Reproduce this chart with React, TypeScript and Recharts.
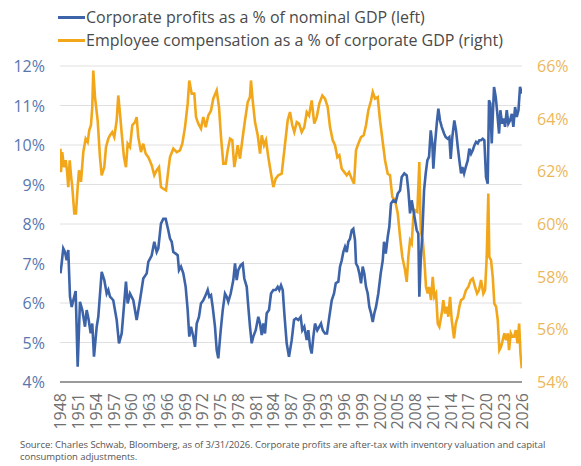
import React from 'react';
import { LineChart, Line, XAxis, YAxis, CartesianGrid } from 'recharts';

// corporate profits as % of nominal GDP, [year, %]
const profitPoints: [number, number][] = [
  [1948.0, 6.75], [1948.2, 7.0], [1948.47, 7.38], [1948.76, 7.29], [1949.05, 7.08], [1949.32, 7.34],
  [1949.61, 6.16], [1949.9, 5.9], [1950.17, 6.07], [1950.57, 6.3], [1950.91, 4.39], [1951.3, 6.03],
  [1951.69, 5.82], [1952.15, 5.4], [1952.43, 5.82], [1952.74, 5.6], [1953.11, 5.23], [1953.38, 5.48],
  [1953.67, 4.64], [1954.13, 5.4], [1954.4, 5.65], [1954.97, 6.79], [1955.41, 6.58], [1955.82, 6.24],
  [1956.09, 6.33], [1956.38, 6.16], [1956.93, 6.07], [1957.51, 5.57], [1957.9, 4.98], [1958.36, 5.23],
  [1959.08, 6.54], [1959.37, 5.99], [1959.76, 6.24], [1960.32, 6.07], [1960.89, 5.57], [1961.45, 6.07],
  [1962.01, 6.62], [1962.59, 6.75], [1962.86, 7.04], [1963.43, 7.2], [1963.87, 7.55], [1964.28, 7.29],
  [1964.55, 7.38], [1965.0, 8.01], [1965.39, 8.13], [1965.8, 8.13], [1966.24, 7.84], [1966.53, 7.63],
  [1966.82, 7.55], [1967.09, 7.29], [1967.49, 7.25], [1967.83, 7.21], [1968.05, 6.83], [1968.39, 6.92],
  [1968.78, 6.75], [1969.18, 6.41], [1969.52, 5.82], [1969.79, 5.15], [1970.08, 5.4], [1970.47, 5.15],
  [1970.76, 4.89], [1971.05, 5.48], [1971.43, 5.65], [1971.77, 5.99], [1972.16, 6.07], [1972.57, 6.2],
  [1972.91, 6.33], [1973.18, 6.16], [1973.47, 6.2], [1973.75, 5.9], [1974.14, 5.4], [1974.43, 4.81],
  [1974.7, 4.6], [1975.11, 5.31], [1975.45, 5.82], [1975.83, 6.24], [1976.12, 6.16], [1976.39, 6.03],
  [1976.8, 6.24], [1977.24, 6.58], [1977.53, 7.0], [1977.81, 6.58], [1978.08, 6.83], [1978.49, 6.96],
  [1978.83, 7.0], [1979.1, 6.62], [1979.51, 6.41], [1979.78, 5.9], [1980.06, 5.4], [1980.35, 4.98],
  [1980.62, 5.15], [1981.03, 5.31], [1981.47, 5.65], [1981.76, 5.48], [1982.05, 5.19], [1982.32, 5.48],
  [1982.6, 5.23], [1982.89, 5.74], [1983.28, 5.82], [1983.62, 6.24], [1984.01, 6.33], [1984.41, 6.33],
  [1984.75, 6.41], [1985.02, 6.33], [1985.31, 6.45], [1985.6, 6.33], [1985.87, 5.74], [1986.27, 4.98],
  [1986.66, 4.64], [1987.12, 5.06], [1987.51, 5.57], [1987.85, 5.61], [1988.24, 5.57], [1988.64, 5.65],
  [1988.91, 5.31], [1989.25, 5.4], [1989.66, 5.06], [1989.93, 5.31], [1990.22, 4.89], [1990.5, 4.72],
  [1990.78, 5.15], [1991.06, 5.48], [1991.45, 5.31], [1991.79, 5.4], [1992.08, 5.48], [1992.37, 5.31],
  [1992.75, 5.23], [1993.09, 5.23], [1993.48, 5.65], [1993.89, 6.07], [1994.28, 6.24], [1994.57, 6.5],
  [1995.01, 6.54], [1995.29, 6.92], [1995.58, 7.08], [1995.85, 7.29], [1996.14, 7.42], [1996.43, 7.29],
  [1996.7, 7.55], [1996.99, 7.63], [1997.27, 7.84], [1997.54, 7.88], [1997.83, 7.59], [1998.0, 7.0],
  [1998.29, 6.92], [1998.56, 6.75], [1998.85, 6.5], [1999.13, 6.92], [1999.4, 6.75], [1999.69, 6.41],
  [1999.98, 6.24], [2000.25, 5.9], [2000.54, 5.74], [2000.83, 5.52], [2001.1, 5.74], [2001.38, 5.9],
  [2001.77, 6.24], [2002.18, 6.75], [2002.52, 7.08], [2002.74, 7.55], [2003.03, 7.25], [2003.36, 7.67],
  [2003.63, 7.93], [2003.92, 8.52], [2004.31, 8.6], [2004.72, 8.56], [2005.06, 8.77], [2005.45, 8.85],
  [2005.73, 9.19], [2006.17, 9.28], [2006.58, 9.23], [2006.85, 8.85], [2007.14, 8.27], [2007.42, 8.6],
  [2007.7, 8.35], [2007.98, 8.1], [2008.27, 7.84], [2008.54, 7.76], [2008.71, 6.16], [2008.95, 7.08],
  [2009.22, 7.76], [2009.51, 8.85], [2009.79, 9.28], [2010.07, 9.61], [2010.35, 9.7], [2010.64, 10.37],
  [2010.91, 10.04], [2011.08, 9.4], [2011.37, 10.04], [2011.66, 10.54], [2011.93, 10.92], [2012.21, 10.62],
  [2012.5, 10.46], [2012.89, 10.29], [2013.18, 10.2], [2013.52, 10.16], [2013.79, 10.2], [2014.02, 9.65],
  [2014.29, 10.2], [2014.63, 10.62], [2014.92, 10.37], [2015.21, 9.95], [2015.48, 9.61], [2015.77, 9.28],
  [2015.99, 9.44], [2016.28, 9.28], [2016.56, 9.44], [2016.9, 9.61], [2017.17, 9.91], [2017.46, 9.78],
  [2017.75, 9.87], [2018.02, 9.99], [2018.31, 10.08], [2018.6, 10.04], [2018.86, 10.12], [2019.15, 10.12],
  [2019.44, 10.16], [2019.71, 10.12], [2019.99, 9.19], [2020.28, 9.02], [2020.5, 11.13], [2020.72, 11.05],
  [2020.96, 10.04], [2021.13, 10.71], [2021.35, 11.47], [2021.64, 11.21], [2021.91, 10.79], [2022.2, 10.29],
  [2022.42, 10.88], [2022.71, 10.54], [2022.99, 10.67], [2023.21, 10.46], [2023.5, 10.88], [2023.77, 10.54],
  [2024.06, 10.62], [2024.35, 10.79], [2024.62, 10.46], [2024.91, 10.96], [2025.19, 10.71], [2025.48, 10.88],
  [2025.75, 11.47], [2026.04, 11.3],
];

// employee compensation as % of corporate GDP, [year, %]
const compPoints: [number, number][] = [
  [1948.0, 62.86], [1948.08, 61.97], [1948.3, 62.73], [1948.59, 62.16], [1948.88, 62.42], [1949.1, 62.04],
  [1949.32, 61.4], [1949.56, 62.42], [1949.78, 61.85], [1950.0, 61.4], [1950.34, 60.4], [1950.62, 60.4],
  [1950.91, 61.4], [1951.13, 62.04], [1951.47, 61.6], [1951.86, 62.73], [1952.26, 63.24], [1952.6, 63.11],
  [1952.87, 63.56], [1953.16, 63.75], [1953.38, 64.44], [1953.55, 65.83], [1953.84, 64.82], [1954.29, 63.94],
  [1954.68, 62.54], [1954.97, 61.85], [1955.41, 62.16], [1955.7, 62.92], [1956.09, 63.24], [1956.38, 63.37],
  [1956.76, 63.49], [1957.1, 63.3], [1957.51, 63.94], [1957.78, 64.88], [1958.07, 64.19], [1958.36, 63.43],
  [1958.74, 62.54], [1959.08, 62.16], [1959.37, 63.05], [1959.76, 62.92], [1960.15, 63.75], [1960.61, 63.87],
  [1960.89, 64.06], [1961.16, 63.3], [1961.62, 62.73], [1962.01, 63.05], [1962.42, 62.67], [1962.86, 62.54],
  [1963.43, 62.23], [1963.87, 61.85], [1964.28, 62.04], [1964.67, 62.16], [1965.0, 61.4], [1965.39, 61.34],
  [1965.85, 61.28], [1966.24, 62.04], [1966.53, 62.54], [1967.09, 62.86], [1967.66, 62.73], [1968.22, 62.8],
  [1968.61, 63.05], [1969.07, 63.68], [1969.52, 64.57], [1969.79, 65.45], [1970.2, 64.95], [1970.64, 64.95],
  [1970.93, 64.06], [1971.32, 63.81], [1971.77, 63.62], [1972.16, 64.06], [1972.57, 63.68], [1973.01, 64.12],
  [1973.47, 64.31], [1973.85, 64.76], [1974.43, 65.07], [1974.82, 64.44], [1975.16, 63.3], [1975.55, 62.29],
  [1975.95, 62.29], [1976.29, 62.8], [1976.68, 63.24], [1977.07, 63.18], [1977.41, 62.16], [1977.7, 62.54],
  [1977.98, 62.99], [1978.37, 62.48], [1978.76, 63.18], [1979.22, 63.94], [1979.68, 64.63], [1980.06, 64.82],
  [1980.23, 65.45], [1980.52, 64.69], [1980.91, 63.87], [1981.37, 63.37], [1981.76, 62.67], [1982.05, 63.37],
  [1982.44, 62.99], [1982.77, 63.18], [1983.16, 62.54], [1983.62, 61.91], [1984.01, 61.4], [1984.41, 61.72],
  [1984.85, 61.85], [1985.43, 61.91], [1985.87, 62.8], [1986.44, 63.94], [1986.83, 64.25], [1987.22, 63.75],
  [1987.56, 63.49], [1987.97, 63.87], [1988.36, 63.81], [1988.81, 63.49], [1989.25, 63.68], [1989.66, 64.25],
  [1990.05, 64.12], [1990.5, 64.69], [1990.94, 63.81], [1991.35, 64.06], [1991.79, 64.57], [1992.3, 64.88],
  [1992.75, 64.76], [1993.21, 64.44], [1993.6, 63.68], [1994.06, 63.18], [1994.45, 62.99], [1994.84, 62.54],
  [1995.18, 62.61], [1995.58, 62.1], [1996.02, 61.97], [1996.43, 61.85], [1996.82, 61.97], [1997.27, 61.72],
  [1997.66, 61.53], [1998.0, 62.8], [1998.39, 63.05], [1998.85, 63.3], [1999.3, 63.37], [1999.69, 63.75],
  [2000.08, 64.31], [2000.54, 64.69], [2000.83, 65.01], [2001.22, 64.76], [2001.67, 64.82], [2002.06, 63.94],
  [2002.45, 63.24], [2002.91, 62.42], [2003.36, 61.91], [2003.75, 61.85], [2004.14, 61.03], [2004.6, 60.9],
  [2005.06, 60.4], [2005.45, 59.51], [2005.83, 58.75], [2006.29, 58.25], [2006.58, 57.8], [2006.85, 58.75],
  [2007.14, 59.38], [2007.42, 59.26], [2007.7, 60.27], [2007.98, 60.52], [2008.37, 60.46], [2008.71, 62.35],
  [2008.95, 59.76], [2009.29, 59.38], [2009.56, 58.63], [2009.84, 57.61], [2010.13, 57.36], [2010.35, 57.61],
  [2010.69, 57.11], [2010.98, 57.99], [2011.25, 57.23], [2011.54, 57.36], [2011.83, 56.22], [2012.1, 56.1],
  [2012.5, 56.6], [2012.77, 57.11], [2013.06, 56.6], [2013.34, 56.86], [2013.62, 56.48], [2013.91, 57.23],
  [2014.19, 56.35], [2014.58, 55.66], [2014.87, 56.22], [2015.21, 56.48], [2015.48, 56.86], [2015.77, 57.11],
  [2016.16, 57.17], [2016.61, 57.49], [2017.0, 57.61], [2017.41, 57.87], [2017.75, 57.93], [2018.14, 57.61],
  [2018.48, 57.36], [2018.81, 57.49], [2019.15, 57.87], [2019.54, 57.36], [2019.83, 57.49], [2020.11, 58.75],
  [2020.38, 61.16], [2020.55, 58.75], [2020.84, 58.63], [2021.13, 57.99], [2021.4, 56.98], [2021.69, 56.86],
  [2021.98, 56.35], [2022.25, 55.21], [2022.54, 55.34], [2022.82, 55.59], [2023.09, 55.85], [2023.38, 55.59],
  [2023.67, 55.85], [2023.89, 55.21], [2024.18, 55.85], [2024.45, 55.72], [2024.74, 55.72], [2025.03, 55.97],
  [2025.32, 55.47], [2025.6, 56.22], [2025.82, 55.09], [2026.04, 54.52],
];

const yearTicks = [1948, 1951, 1954, 1957, 1960, 1963, 1966, 1969, 1972, 1975, 1978, 1981, 1984,
  1987, 1990, 1993, 1996, 1999, 2002, 2005, 2008, 2011, 2014, 2017, 2020, 2023, 2026];
const leftTicks = [4, 5, 6, 7, 8, 9, 10, 11, 12];
const rightTicks = [54, 56, 58, 60, 62, 64, 66];

const profitLabel = 'Corporate profits as a % of nominal GDP (left)';
const compLabel = 'Employee compensation as a % of corporate GDP (right)';
const sourceLines = [
  'Source: Charles Schwab, Bloomberg, as of 3/31/2026.  Corporate profits are after-tax with inventory valuation and capital',
  'consumption adjustments.',
];

const BLUE = '#3d64a8';
const ORANGE = '#f2a71b';
const FONT = '"Open Sans", "Noto Sans", sans-serif';

const profitData = profitPoints.map(([year, value]) => ({ year, value }));
const compData = compPoints.map(([year, value]) => ({ year, value }));

const YearTick = (props: any) => {
  const { x, y, payload } = props;
  const ty = y + 3;
  return (
    <text x={x} y={ty} transform={`rotate(-90 ${x} ${ty})`} textAnchor="end" dominantBaseline="central"
      fontSize={16} fill="#707070" fontFamily={FONT}>
      {payload.value}
    </text>
  );
};

const LeftTick = (props: any) => {
  const { x, y, payload } = props;
  return (
    <text x={x - 7} y={y} textAnchor="end" dominantBaseline="central" fontSize={16} fill="#5877ad" fontFamily={FONT}>
      {payload.value}%
    </text>
  );
};

const RightTick = (props: any) => {
  const { x, y, payload } = props;
  return (
    <text x={x + 7} y={y} textAnchor="start" dominantBaseline="central" fontSize={16} fill="#ecb75a" fontFamily={FONT}>
      {payload.value}%
    </text>
  );
};

const LegendRow: React.FC<{ color: string; label: string; top: number }> = ({ color, label, top }) => (
  <div style={{ position: 'absolute', left: 58, top, display: 'flex', alignItems: 'center', height: 20 }}>
    <div style={{ width: 27, height: 3, background: color }} />
    <span style={{ marginLeft: 1, fontSize: 16, color: '#4a4a4a', fontFamily: FONT, whiteSpace: 'nowrap' }}>{label}</span>
  </div>
);

export default function App() {
  return (
    <div style={{ position: 'absolute', left: 0, top: 0, width: 581, height: 466, background: '#fff', overflow: 'hidden' }}>
      <LegendRow color={BLUE} label={profitLabel} top={7} />
      <LegendRow color={ORANGE} label={compLabel} top={30} />
      <LineChart width={581} height={466} margin={{ top: 66, right: 0, bottom: 34, left: 0 }}>
        <CartesianGrid yAxisId="left" vertical={false} stroke="#e0e0e0" strokeWidth={1} />
        <XAxis type="number" dataKey="year" domain={[1947.92, 2026.08]} ticks={yearTicks} allowDataOverflow
          height={50} tickLine={false} axisLine={{ stroke: '#9a9a9a', strokeWidth: 2 }} tick={<YearTick />} interval={0} />
        <YAxis yAxisId="left" domain={[4, 12]} ticks={leftTicks} width={60} axisLine={false} tickLine={false}
          tick={<LeftTick />} interval={0} />
        <YAxis yAxisId="right" orientation="right" domain={[54, 66]} ticks={rightTicks} width={59} axisLine={false}
          tickLine={false} tick={<RightTick />} interval={0} />
        <Line yAxisId="right" data={compData} dataKey="value" type="linear" stroke={ORANGE} strokeWidth={2.6}
          dot={false} isAnimationActive={false} />
        <Line yAxisId="left" data={profitData} dataKey="value" type="linear" stroke={BLUE} strokeWidth={2.6}
          dot={false} isAnimationActive={false} />
      </LineChart>
      <div style={{ position: 'absolute', left: 20, top: 439, fontSize: 9.5, lineHeight: '12px', letterSpacing: -0.05,
        color: '#555', fontFamily: FONT, whiteSpace: 'nowrap' }}>
        {sourceLines.map((line) => (
          <div key={line}>{line}</div>
        ))}
      </div>
    </div>
  );
}
